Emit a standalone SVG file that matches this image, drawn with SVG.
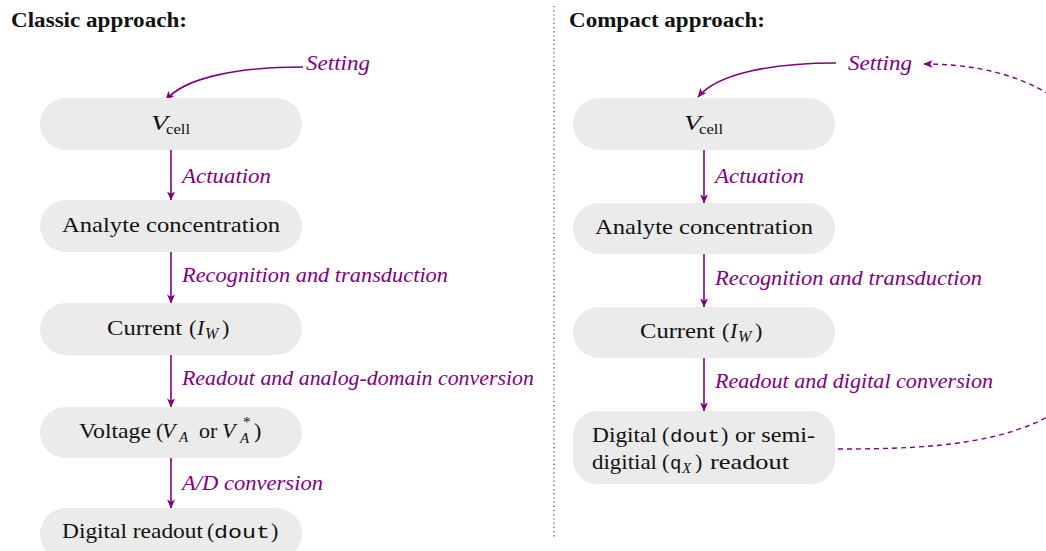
<svg xmlns="http://www.w3.org/2000/svg" width="1046" height="551" viewBox="0 0 1046 551">
<style>
.node{fill:#ebebeb}
.t{font-family:"Liberation Serif",serif;font-size:22px;fill:#111}
.it{font-style:italic}
.sub{font-size:15px}
.subw{font-size:16px}
.mono{font-family:"Liberation Mono",monospace;font-size:19px}
.lbl{font-family:"Liberation Serif",serif;font-style:italic;font-size:21px;fill:#800080}
.hd{font-family:"Liberation Serif",serif;font-weight:bold;font-size:20px;fill:#111}
.arr{stroke:#800080;stroke-width:1.6;fill:none}
.dash{stroke:#800080;stroke-width:1.4;fill:none;stroke-dasharray:5 4}
</style>
<defs>
<marker id="ah" viewBox="0 0 10 10" refX="9.5" refY="5" markerWidth="9" markerHeight="9" markerUnits="userSpaceOnUse" orient="auto">
<path d="M0,0.5 L10,5 L0,9.5 L2.5,5 z" fill="#800080"/>
</marker>
</defs>

<g id="headings">
<text class="hd" x="11" y="27" textLength="176" lengthAdjust="spacingAndGlyphs">Classic approach:</text>
<text class="hd" x="569" y="27" textLength="196" lengthAdjust="spacingAndGlyphs">Compact approach:</text>
</g>
<line x1="554" y1="6" x2="554" y2="538" stroke="#444" stroke-width="1.2" stroke-dasharray="1.2 3"/>

<g id="connectors">
<path class="arr" marker-end="url(#ah)" d="M303,67 C240,67 185,77 166,100"/>
<line class="arr" marker-end="url(#ah)" x1="171" y1="150" x2="171" y2="200"/>
<line class="arr" marker-end="url(#ah)" x1="171" y1="252" x2="171" y2="303"/>
<line class="arr" marker-end="url(#ah)" x1="171" y1="355" x2="171" y2="407"/>
<line class="arr" marker-end="url(#ah)" x1="171" y1="458" x2="171" y2="508"/>
<path class="arr" marker-end="url(#ah)" d="M836,63 C773,63 718,73 698,97"/>
<line class="arr" marker-end="url(#ah)" x1="704" y1="150" x2="704" y2="203"/>
<line class="arr" marker-end="url(#ah)" x1="704" y1="254" x2="704" y2="307"/>
<line class="arr" marker-end="url(#ah)" x1="704" y1="358" x2="704" y2="411"/>
<path class="dash" marker-end="url(#ah)" d="M838,449 C980,449 1130,440 1130,260 C1130,150 1070,64 924,64"/>
<text class="lbl" x="306" y="70" textLength="64" lengthAdjust="spacingAndGlyphs">Setting</text>
<text class="lbl" x="182" y="183" textLength="89" lengthAdjust="spacingAndGlyphs">Actuation</text>
<text class="lbl" x="182" y="282" textLength="266" lengthAdjust="spacingAndGlyphs">Recognition and transduction</text>
<text class="lbl" x="182" y="385" textLength="352" lengthAdjust="spacingAndGlyphs">Readout and analog-domain conversion</text>
<text class="lbl" x="182" y="490" textLength="141" lengthAdjust="spacingAndGlyphs">A/D conversion</text>
<text class="lbl" x="848" y="70" textLength="64" lengthAdjust="spacingAndGlyphs">Setting</text>
<text class="lbl" x="715" y="183" textLength="89" lengthAdjust="spacingAndGlyphs">Actuation</text>
<text class="lbl" x="715" y="285" textLength="267" lengthAdjust="spacingAndGlyphs">Recognition and transduction</text>
<text class="lbl" x="715" y="388" textLength="278" lengthAdjust="spacingAndGlyphs">Readout and digital conversion</text>
</g>

<g id="c-vcell">
<rect class="node" x="40" y="98" width="262" height="52" rx="26"/>
<text class="t"><tspan class="it" x="151" y="130" textLength="17" lengthAdjust="spacingAndGlyphs">V</tspan><tspan class="sub" x="166" y="134" textLength="24" lengthAdjust="spacingAndGlyphs">cell</tspan></text>
</g>
<g id="c-analyte">
<rect class="node" x="40" y="200" width="262" height="52" rx="26"/>
<text class="t" x="62" y="232" textLength="218" lengthAdjust="spacingAndGlyphs">Analyte concentration</text>
</g>
<g id="c-current">
<rect class="node" x="40" y="303" width="262" height="52" rx="26"/>
<text class="t"><tspan x="107" y="335" textLength="75" lengthAdjust="spacingAndGlyphs">Current</tspan><tspan x="189" y="335">(</tspan><tspan class="it" x="197" y="335">I</tspan><tspan class="it subw" x="205" y="339">W</tspan><tspan x="222" y="335">)</tspan></text>
</g>
<g id="c-voltage">
<rect class="node" x="40" y="407" width="262" height="51" rx="25.5"/>
<text class="t"><tspan x="79" y="438" textLength="72" lengthAdjust="spacingAndGlyphs">Voltage</tspan><tspan x="156" y="438">(</tspan><tspan class="it" x="162" y="438">V</tspan><tspan class="it sub" x="179" y="442">A</tspan><tspan x="199" y="438">or</tspan><tspan class="it" x="222" y="438">V</tspan><tspan class="sub" x="243" y="427">*</tspan><tspan class="it sub" x="240" y="443">A</tspan><tspan x="254" y="438">)</tspan></text>
</g>
<g id="c-digital">
<rect class="node" x="40" y="508" width="262" height="52" rx="26"/>
<text class="t"><tspan x="62" y="538" textLength="141" lengthAdjust="spacingAndGlyphs">Digital readout</tspan><tspan x="207" y="538">(</tspan><tspan class="mono" x="214" y="538" textLength="56" lengthAdjust="spacingAndGlyphs">dout</tspan><tspan x="271" y="538">)</tspan></text>
</g>

<g id="p-vcell">
<rect class="node" x="573" y="98" width="262" height="52" rx="26"/>
<text class="t"><tspan class="it" x="684" y="130" textLength="17" lengthAdjust="spacingAndGlyphs">V</tspan><tspan class="sub" x="699" y="134" textLength="24" lengthAdjust="spacingAndGlyphs">cell</tspan></text>
</g>
<g id="p-analyte">
<rect class="node" x="573" y="203" width="262" height="51" rx="25.5"/>
<text class="t" x="595" y="234" textLength="218" lengthAdjust="spacingAndGlyphs">Analyte concentration</text>
</g>
<g id="p-current">
<rect class="node" x="573" y="307" width="262" height="51" rx="25.5"/>
<text class="t"><tspan x="640" y="338" textLength="75" lengthAdjust="spacingAndGlyphs">Current</tspan><tspan x="722" y="338">(</tspan><tspan class="it" x="730" y="338">I</tspan><tspan class="it subw" x="738" y="342">W</tspan><tspan x="755" y="338">)</tspan></text>
</g>
<g id="p-digital">
<rect class="node" x="573" y="411" width="262" height="73" rx="24"/>
<text class="t"><tspan x="592" y="442" textLength="65" lengthAdjust="spacingAndGlyphs">Digital</tspan><tspan x="662" y="442">(</tspan><tspan class="mono" x="670" y="442" textLength="50" lengthAdjust="spacingAndGlyphs">dout</tspan><tspan x="721" y="442">)</tspan><tspan x="735" y="442" textLength="80" lengthAdjust="spacingAndGlyphs">or semi-</tspan></text>
<text class="t"><tspan x="592" y="469" textLength="65" lengthAdjust="spacingAndGlyphs">digitial</tspan><tspan x="662" y="469">(</tspan><tspan class="mono" x="670" y="469">q</tspan><tspan class="it sub" x="682" y="473">X</tspan><tspan x="695" y="469">)</tspan><tspan x="710" y="469" textLength="79" lengthAdjust="spacingAndGlyphs">readout</tspan></text>
</g>
</svg>
